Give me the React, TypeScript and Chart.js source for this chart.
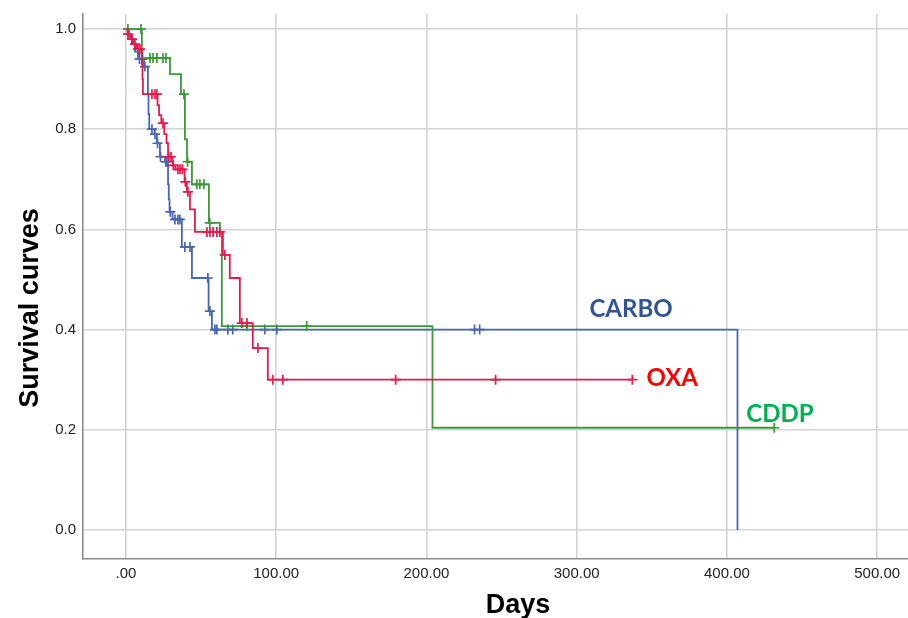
import React, { useEffect, useRef } from 'react';
import { Chart, registerables } from 'chart.js';

Chart.register(...registerables);

// ---- Data ----
const xTickValues = [0, 100, 200, 300, 400, 500];
const xTickLabels = ['.00', '100.00', '200.00', '300.00', '400.00', '500.00'];
const yTickValues = [0, 0.2, 0.4, 0.6, 0.8, 1.0];
const yTickLabels = ['0.0', '0.2', '0.4', '0.6', '0.8', '1.0'];

// CARBO: event times (days) and survival after each event
const carboTimes = [0, 2, 4, 6, 8, 12, 14.6, 15, 15.5, 19, 20.6, 22.6, 26, 28, 28.5, 29, 31, 37.2, 43.9, 55, 57.2, 407];
const carboSurv = [1, 0.985, 0.97, 0.955, 0.94, 0.925, 0.87, 0.83, 0.8, 0.79, 0.772, 0.745, 0.735, 0.69, 0.66, 0.635, 0.62, 0.565, 0.503, 0.437, 0.4, 0];
const carboCensor = [9, 11, 12.6, 17.3, 19.3, 21, 23, 26.5, 27.3, 29.5, 32.6, 34.6, 35.9, 39.2, 42.6, 54.5, 55.9, 59.2, 60.5, 67.8, 71.1, 92.4, 100.4, 232, 235.4];

// OXA
const oxaTimes = [0, 1, 3, 5, 7, 10.6, 11, 11.3, 21, 22, 23.5, 25.5, 27, 28, 31, 33, 39, 40.5, 42.6, 45.9, 64.5, 69.1, 75.8, 84.4, 94.4, 337];
const oxaSurv = [1, 0.99, 0.98, 0.97, 0.96, 0.93, 0.9, 0.87, 0.848, 0.828, 0.812, 0.79, 0.772, 0.745, 0.728, 0.72, 0.695, 0.675, 0.64, 0.595, 0.549, 0.503, 0.413, 0.363, 0.3, 0.3];
const oxaCensor = [1.3, 4, 6, 8, 9.3, 17.3, 19.3, 20.6, 24.6, 28.5, 30, 31.5, 34.6, 36, 37.5, 39.5, 41.2, 53.9, 55.9, 58, 60.5, 62.5, 65.8, 77.1, 80.5, 87.8, 97.7, 104.4, 179.5, 246, 337];

// CDDP
const cddpTimes = [0, 10.6, 29.3, 36.6, 39.2, 40.6, 43.9, 55.2, 62.5, 63.8, 204, 431.5];
const cddpSurv = [1, 0.942, 0.91, 0.87, 0.78, 0.735, 0.69, 0.613, 0.593, 0.407, 0.204, 0.204];
const cddpCensor = [1.3, 10, 16, 18, 20.6, 24.6, 26.6, 38.6, 41, 47.2, 49.2, 51.9, 55.8, 80.5, 120.3, 431.5];

// Series labels (left edge day, vertical centre survival)
const seriesLabels = [
  { text: 'CARBO', day: 308.5, surv: 0.441, color: '#2f5597' },
  { text: 'OXA', day: 346.4, surv: 0.303, color: '#ff0000' },
  { text: 'CDDP', day: 412.9, surv: 0.2315, color: '#00b050' },
];

const BLUE = '#4866b2';
const RED = '#e41c4d';
const GREEN = '#3a9a3a';

function survivalAt(times: number[], surv: number[], t: number) {
  let s = surv[0];
  for (let i = 0; i < times.length; i++) {
    if (times[i] <= t) s = surv[i];
    else break;
  }
  return s;
}

function stepSet(label: string, times: number[], surv: number[], color: string) {
  return {
    label,
    data: times.map((t, i) => ({ x: t, y: surv[i] })),
    borderColor: color,
    backgroundColor: color,
    borderWidth: 1.8,
    stepped: 'before' as const,
    pointRadius: 0,
    fill: false,
  };
}

function censorSet(label: string, times: number[], surv: number[], cens: number[], color: string) {
  return {
    label,
    data: cens.map((t) => ({ x: t, y: survivalAt(times, surv, t) })),
    borderColor: color,
    backgroundColor: color,
    borderWidth: 1.7,
    showLine: false,
    pointStyle: 'cross' as const,
    pointRadius: 5,
    pointHoverRadius: 5,
  };
}

const textPlugin = {
  id: 'textPlugin',
  afterDraw(chart: any) {
    const ctx = chart.ctx as CanvasRenderingContext2D;
    const xs = chart.scales.x;
    const ys = chart.scales.y;
    ctx.save();
    // Axis titles
    ctx.fillStyle = '#000';
    ctx.font = 'bold 27px "Liberation Sans", Arial, sans-serif';
    ctx.textAlign = 'center';
    ctx.textBaseline = 'alphabetic';
    ctx.fillText('Days', 518, 613);
    ctx.save();
    ctx.translate(38, 308);
    ctx.rotate(-Math.PI / 2);
    ctx.fillText('Survival curves', 0, 0);
    ctx.restore();
    // Series labels
    ctx.font = 'bold 24px Lato, "Open Sans", sans-serif';
    ctx.textBaseline = 'middle';
    ctx.textAlign = 'left';
    for (const l of seriesLabels) {
      ctx.fillStyle = l.color;
      ctx.fillText(l.text, xs.getPixelForValue(l.day), ys.getPixelForValue(l.surv));
    }
    ctx.restore();
  },
};

export default function App() {
  const ref = useRef<HTMLCanvasElement | null>(null);

  useEffect(() => {
    if (!ref.current) return;
    const tickFont = { family: '"Liberation Sans", Arial, sans-serif', size: 15 };
    const chart = new Chart(ref.current, {
      type: 'line',
      data: {
        datasets: [
          stepSet('OXA', oxaTimes, oxaSurv, RED),
          censorSet('OXA censored', oxaTimes, oxaSurv, oxaCensor, RED),
          stepSet('CDDP', cddpTimes, cddpSurv, GREEN),
          censorSet('CDDP censored', cddpTimes, cddpSurv, cddpCensor, GREEN),
          stepSet('CARBO', carboTimes, carboSurv, BLUE),
          censorSet('CARBO censored', carboTimes, carboSurv, carboCensor, BLUE),
        ] as any,
      },
      options: {
        animation: false,
        responsive: false,
        maintainAspectRatio: false,
        devicePixelRatio: 1,
        layout: { autoPadding: false, padding: { top: 14, right: 0, left: 0, bottom: 0 } },
        plugins: { legend: { display: false }, tooltip: { enabled: false } },
        events: [],
        scales: {
          x: {
            type: 'linear',
            min: -28.6,
            max: 520.5,
            afterBuildTicks: (s: any) => {
              s.ticks = xTickValues.map((v) => ({ value: v }));
            },
            afterFit: (s: any) => {
              s.height = 59;
              s.paddingLeft = 0;
              s.paddingRight = 0;
            },
            ticks: {
              callback: (_v: any, i: number) => xTickLabels[i],
              font: tickFont,
              color: '#222',
              padding: 6,
              maxRotation: 0,
              autoSkip: false,
            },
            grid: { color: '#d3d3d3', lineWidth: 1.6, drawTicks: false },
            border: { display: true, color: '#8c8c8c', width: 1.6 },
          },
          y: {
            type: 'linear',
            min: -0.058,
            max: 1.03,
            afterBuildTicks: (s: any) => {
              s.ticks = yTickValues.map((v) => ({ value: v }));
            },
            afterFit: (s: any) => {
              s.width = 83;
              s.paddingTop = 0;
              s.paddingBottom = 0;
            },
            ticks: {
              callback: (_v: any, i: number) => yTickLabels[i],
              font: tickFont,
              color: '#222',
              padding: 7,
              autoSkip: false,
            },
            grid: { color: '#d3d3d3', lineWidth: 1.6, drawTicks: false },
            border: { display: true, color: '#8c8c8c', width: 1.6 },
          },
        },
      } as any,
      plugins: [textPlugin],
    });
    return () => chart.destroy();
  }, []);

  return (
    <div style={{ position: 'absolute', left: 0, top: 0, width: 908, height: 618, background: '#fff' }}>
      <canvas ref={ref} width={908} height={618} style={{ display: 'block', width: 908, height: 618 }} />
    </div>
  );
}
